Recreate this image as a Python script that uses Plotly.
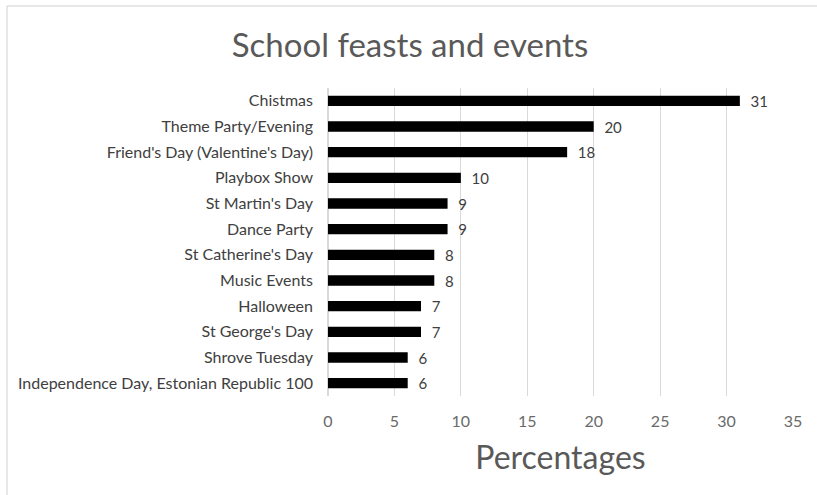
import plotly.graph_objects as go

categories = [
    "Chistmas",
    "Theme Party/Evening",
    "Friend's Day (Valentine's Day)",
    "Playbox Show",
    "St Martin's Day",
    "Dance Party",
    "St Catherine's Day",
    "Music Events",
    "Halloween",
    "St George's Day",
    "Shrove Tuesday",
    "Independence Day, Estonian Republic 100",
]
values = [31, 20, 18, 10, 9, 9, 8, 8, 7, 7, 6, 6]
x_ticks = [0, 5, 10, 15, 20, 25, 30, 35]

FONT = "Lato"
L, R, T, B = 328, 24, 88, 99
W, H = 817, 495
PW, PH = W - L - R, H - T - B

fig = go.Figure(
    go.Bar(
        y=categories,
        x=values,
        orientation="h",
        marker=dict(color="black", line=dict(width=0)),
        texttemplate="\u00a0\u00a0%{x}",
        textposition="outside",
        constraintext="none",
        textfont=dict(family=FONT, size=15, color="#404040"),
        cliponaxis=False,
    )
)

fig.update_layout(
    width=W,
    height=H,
    paper_bgcolor="white",
    plot_bgcolor="white",
    margin=dict(l=L, r=R, t=T, b=B, autoexpand=False),
    bargap=0.6,
    showlegend=False,
    title=dict(
        text="School feasts and events",
        x=410 / W,
        xanchor="center",
        y=1 - 45 / H,
        yanchor="middle",
        font=dict(family=FONT, size=33, color="#595959"),
    ),
    xaxis=dict(
        range=[0, 35],
        tickvals=x_ticks,
        ticktext=[str(t) for t in x_ticks],
        showgrid=True,
        gridcolor="#D9D9D9",
        gridwidth=1,
        zeroline=True,
        zerolinecolor="#D9D9D9",
        showline=False,
        ticks="",
        automargin=False,
        ticklabelstandoff=14,
        tickfont=dict(family=FONT, size=16, color="#6a6a6a"),
        title=dict(
            text="Percentages",
            font=dict(family=FONT, size=32, color="#595959"),
            standoff=17,
        ),
    ),
    yaxis=dict(
        categoryorder="array",
        categoryarray=categories[::-1],
        showgrid=False,
        showline=False,
        ticks="",
        automargin=False,
        ticklabelstandoff=14,
        tickfont=dict(family=FONT, size=16, color="#404040"),
    ),
    shapes=[
        dict(
            type="rect",
            xref="paper",
            yref="paper",
            x0=(7 - L) / PW,
            x1=(830 - L) / PW,
            y0=(H - B - 510) / PH,
            y1=(H - B - 6) / PH,
            line=dict(color="#D0D0D0", width=1),
            fillcolor="rgba(0,0,0,0)",
            layer="below",
        )
    ],
)

fig.write_html(
    "out.html",
    config={"displayModeBar": False},
    post_script="document.body.style.margin='0';document.body.style.overflow='hidden';",
)
